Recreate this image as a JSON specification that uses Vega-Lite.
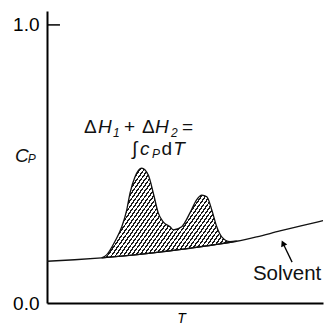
{
  "$schema": "https://vega.github.io/schema/vega-lite/v6.json",
  "width": 276,
  "height": 292,
  "autosize": {"type": "none"},
  "padding": {"left": 47, "top": 11, "right": 2, "bottom": 21},
  "background": "white",
  "config": {"view": {"stroke": null}, "font": "Liberation Sans"},
  "datasets": {
    "base": [
      {"T": 0, "v": 0.150}, {"T": 10, "v": 0.1555}, {"T": 19.8, "v": 0.1625}, {"T": 30, "v": 0.1715},
      {"T": 40, "v": 0.182}, {"T": 50, "v": 0.1945}, {"T": 60, "v": 0.2085}, {"T": 68.7, "v": 0.222},
      {"T": 76, "v": 0.238}, {"T": 84.4, "v": 0.259}, {"T": 92, "v": 0.277}, {"T": 100, "v": 0.296}
    ],
    "peak": [
      {"T": 19.8, "cp": 0.1625, "base": 0.1625},
      {"T": 21.6, "cp": 0.173, "base": 0.164},
      {"T": 24.6, "cp": 0.221, "base": 0.1665},
      {"T": 27.1, "cp": 0.274, "base": 0.1688},
      {"T": 28.9, "cp": 0.335, "base": 0.1705},
      {"T": 30.1, "cp": 0.396, "base": 0.1716},
      {"T": 31.9, "cp": 0.454, "base": 0.1734},
      {"T": 34.3, "cp": 0.485, "base": 0.1759},
      {"T": 36.7, "cp": 0.460, "base": 0.1784},
      {"T": 38.5, "cp": 0.396, "base": 0.1804},
      {"T": 40.3, "cp": 0.324, "base": 0.1825},
      {"T": 42.1, "cp": 0.292, "base": 0.1846},
      {"T": 44.6, "cp": 0.274, "base": 0.1876},
      {"T": 45.8, "cp": 0.263, "base": 0.1890},
      {"T": 48.8, "cp": 0.274, "base": 0.1928},
      {"T": 51.8, "cp": 0.324, "base": 0.1968},
      {"T": 54.2, "cp": 0.371, "base": 0.2001},
      {"T": 56.1, "cp": 0.388, "base": 0.2027},
      {"T": 57.9, "cp": 0.382, "base": 0.2053},
      {"T": 59.7, "cp": 0.335, "base": 0.2080},
      {"T": 61.5, "cp": 0.274, "base": 0.2106},
      {"T": 63.3, "cp": 0.238, "base": 0.2134},
      {"T": 66.3, "cp": 0.221, "base": 0.2181},
      {"T": 68.7, "cp": 0.222, "base": 0.222}
    ],
    "tick": [{"T": 0, "T2": 4.7, "v": 1}],
    "arrow": [{"T": 88.8, "v": 0.147, "T2": 85.5, "v2": 0.215}],
    "head": [{"T": 85.5, "v": 0.215}],
    "roman": [
      {"text": "Δ", "T": 13.4, "v": 0.6115},
      {"text": "+", "T": 27.9, "v": 0.6115},
      {"text": "Δ", "T": 34.4, "v": 0.6115},
      {"text": "=", "T": 48.9, "v": 0.6115},
      {"text": "∫", "T": 30.8, "v": 0.532},
      {"text": "d", "T": 41.5, "v": 0.532}
    ],
    "solvent": [
      {"text": "Solvent", "T": 74.6, "v": 0.083}
    ],
    "italic": [
      {"text": "H", "T": 18.5, "v": 0.6115},
      {"text": "H", "T": 39.1, "v": 0.6115},
      {"text": "c", "T": 33.7, "v": 0.532},
      {"text": "T", "T": 45.7, "v": 0.532},
      {"text": "C", "T": -11.6, "v": 0.507}
    ],
    "sub": [
      {"text": "1", "T": 23.9, "v": 0.597},
      {"text": "2", "T": 44.9, "v": 0.597},
      {"text": "P", "T": 38.0, "v": 0.522},
      {"text": "P", "T": -7.0, "v": 0.504}
    ]
  },
  "layer": [
    {
      "data": {"name": "peak"},
      "mark": {
        "type": "area",
        "interpolate": "monotone",
        "stroke": "#111111",
        "strokeWidth": 1.3,
        "fill": {
          "gradient": "linear", "x1": 0, "y1": 0, "x2": 1.22, "y2": 0.57,
          "stops": [
            {"offset": 0, "color": "#ffffff"},
            {"offset": 0.012, "color": "#ffffff"}, {"offset": 0.012, "color": "#1a1a1a"}, {"offset": 0.02, "color": "#1a1a1a"}, {"offset": 0.02, "color": "#ffffff"},
            {"offset": 0.032, "color": "#ffffff"}, {"offset": 0.032, "color": "#1a1a1a"}, {"offset": 0.04, "color": "#1a1a1a"}, {"offset": 0.04, "color": "#ffffff"},
            {"offset": 0.052, "color": "#ffffff"}, {"offset": 0.052, "color": "#1a1a1a"}, {"offset": 0.06, "color": "#1a1a1a"}, {"offset": 0.06, "color": "#ffffff"},
            {"offset": 0.072, "color": "#ffffff"}, {"offset": 0.072, "color": "#1a1a1a"}, {"offset": 0.08, "color": "#1a1a1a"}, {"offset": 0.08, "color": "#ffffff"},
            {"offset": 0.092, "color": "#ffffff"}, {"offset": 0.092, "color": "#1a1a1a"}, {"offset": 0.1, "color": "#1a1a1a"}, {"offset": 0.1, "color": "#ffffff"},
            {"offset": 0.112, "color": "#ffffff"}, {"offset": 0.112, "color": "#1a1a1a"}, {"offset": 0.12, "color": "#1a1a1a"}, {"offset": 0.12, "color": "#ffffff"},
            {"offset": 0.132, "color": "#ffffff"}, {"offset": 0.132, "color": "#1a1a1a"}, {"offset": 0.14, "color": "#1a1a1a"}, {"offset": 0.14, "color": "#ffffff"},
            {"offset": 0.152, "color": "#ffffff"}, {"offset": 0.152, "color": "#1a1a1a"}, {"offset": 0.16, "color": "#1a1a1a"}, {"offset": 0.16, "color": "#ffffff"},
            {"offset": 0.172, "color": "#ffffff"}, {"offset": 0.172, "color": "#1a1a1a"}, {"offset": 0.18, "color": "#1a1a1a"}, {"offset": 0.18, "color": "#ffffff"},
            {"offset": 0.192, "color": "#ffffff"}, {"offset": 0.192, "color": "#1a1a1a"}, {"offset": 0.2, "color": "#1a1a1a"}, {"offset": 0.2, "color": "#ffffff"},
            {"offset": 0.212, "color": "#ffffff"}, {"offset": 0.212, "color": "#1a1a1a"}, {"offset": 0.22, "color": "#1a1a1a"}, {"offset": 0.22, "color": "#ffffff"},
            {"offset": 0.232, "color": "#ffffff"}, {"offset": 0.232, "color": "#1a1a1a"}, {"offset": 0.24, "color": "#1a1a1a"}, {"offset": 0.24, "color": "#ffffff"},
            {"offset": 0.252, "color": "#ffffff"}, {"offset": 0.252, "color": "#1a1a1a"}, {"offset": 0.26, "color": "#1a1a1a"}, {"offset": 0.26, "color": "#ffffff"},
            {"offset": 0.272, "color": "#ffffff"}, {"offset": 0.272, "color": "#1a1a1a"}, {"offset": 0.28, "color": "#1a1a1a"}, {"offset": 0.28, "color": "#ffffff"},
            {"offset": 0.292, "color": "#ffffff"}, {"offset": 0.292, "color": "#1a1a1a"}, {"offset": 0.3, "color": "#1a1a1a"}, {"offset": 0.3, "color": "#ffffff"},
            {"offset": 0.312, "color": "#ffffff"}, {"offset": 0.312, "color": "#1a1a1a"}, {"offset": 0.32, "color": "#1a1a1a"}, {"offset": 0.32, "color": "#ffffff"},
            {"offset": 0.332, "color": "#ffffff"}, {"offset": 0.332, "color": "#1a1a1a"}, {"offset": 0.34, "color": "#1a1a1a"}, {"offset": 0.34, "color": "#ffffff"},
            {"offset": 0.352, "color": "#ffffff"}, {"offset": 0.352, "color": "#1a1a1a"}, {"offset": 0.36, "color": "#1a1a1a"}, {"offset": 0.36, "color": "#ffffff"},
            {"offset": 0.372, "color": "#ffffff"}, {"offset": 0.372, "color": "#1a1a1a"}, {"offset": 0.38, "color": "#1a1a1a"}, {"offset": 0.38, "color": "#ffffff"},
            {"offset": 0.392, "color": "#ffffff"}, {"offset": 0.392, "color": "#1a1a1a"}, {"offset": 0.4, "color": "#1a1a1a"}, {"offset": 0.4, "color": "#ffffff"},
            {"offset": 0.412, "color": "#ffffff"}, {"offset": 0.412, "color": "#1a1a1a"}, {"offset": 0.42, "color": "#1a1a1a"}, {"offset": 0.42, "color": "#ffffff"},
            {"offset": 0.432, "color": "#ffffff"}, {"offset": 0.432, "color": "#1a1a1a"}, {"offset": 0.44, "color": "#1a1a1a"}, {"offset": 0.44, "color": "#ffffff"},
            {"offset": 0.452, "color": "#ffffff"}, {"offset": 0.452, "color": "#1a1a1a"}, {"offset": 0.46, "color": "#1a1a1a"}, {"offset": 0.46, "color": "#ffffff"},
            {"offset": 0.472, "color": "#ffffff"}, {"offset": 0.472, "color": "#1a1a1a"}, {"offset": 0.48, "color": "#1a1a1a"}, {"offset": 0.48, "color": "#ffffff"},
            {"offset": 0.492, "color": "#ffffff"}, {"offset": 0.492, "color": "#1a1a1a"}, {"offset": 0.5, "color": "#1a1a1a"}, {"offset": 0.5, "color": "#ffffff"},
            {"offset": 0.512, "color": "#ffffff"}, {"offset": 0.512, "color": "#1a1a1a"}, {"offset": 0.52, "color": "#1a1a1a"}, {"offset": 0.52, "color": "#ffffff"},
            {"offset": 0.532, "color": "#ffffff"}, {"offset": 0.532, "color": "#1a1a1a"}, {"offset": 0.54, "color": "#1a1a1a"}, {"offset": 0.54, "color": "#ffffff"},
            {"offset": 0.552, "color": "#ffffff"}, {"offset": 0.552, "color": "#1a1a1a"}, {"offset": 0.56, "color": "#1a1a1a"}, {"offset": 0.56, "color": "#ffffff"},
            {"offset": 0.572, "color": "#ffffff"}, {"offset": 0.572, "color": "#1a1a1a"}, {"offset": 0.58, "color": "#1a1a1a"}, {"offset": 0.58, "color": "#ffffff"},
            {"offset": 0.592, "color": "#ffffff"}, {"offset": 0.592, "color": "#1a1a1a"}, {"offset": 0.6, "color": "#1a1a1a"}, {"offset": 0.6, "color": "#ffffff"},
            {"offset": 0.612, "color": "#ffffff"}, {"offset": 0.612, "color": "#1a1a1a"}, {"offset": 0.62, "color": "#1a1a1a"}, {"offset": 0.62, "color": "#ffffff"},
            {"offset": 0.632, "color": "#ffffff"}, {"offset": 0.632, "color": "#1a1a1a"}, {"offset": 0.64, "color": "#1a1a1a"}, {"offset": 0.64, "color": "#ffffff"},
            {"offset": 0.652, "color": "#ffffff"}, {"offset": 0.652, "color": "#1a1a1a"}, {"offset": 0.66, "color": "#1a1a1a"}, {"offset": 0.66, "color": "#ffffff"},
            {"offset": 0.672, "color": "#ffffff"}, {"offset": 0.672, "color": "#1a1a1a"}, {"offset": 0.68, "color": "#1a1a1a"}, {"offset": 0.68, "color": "#ffffff"},
            {"offset": 0.692, "color": "#ffffff"}, {"offset": 0.692, "color": "#1a1a1a"}, {"offset": 0.7, "color": "#1a1a1a"}, {"offset": 0.7, "color": "#ffffff"},
            {"offset": 0.712, "color": "#ffffff"}, {"offset": 0.712, "color": "#1a1a1a"}, {"offset": 0.72, "color": "#1a1a1a"}, {"offset": 0.72, "color": "#ffffff"},
            {"offset": 0.732, "color": "#ffffff"}, {"offset": 0.732, "color": "#1a1a1a"}, {"offset": 0.74, "color": "#1a1a1a"}, {"offset": 0.74, "color": "#ffffff"},
            {"offset": 0.752, "color": "#ffffff"}, {"offset": 0.752, "color": "#1a1a1a"}, {"offset": 0.76, "color": "#1a1a1a"}, {"offset": 0.76, "color": "#ffffff"},
            {"offset": 0.772, "color": "#ffffff"}, {"offset": 0.772, "color": "#1a1a1a"}, {"offset": 0.78, "color": "#1a1a1a"}, {"offset": 0.78, "color": "#ffffff"},
            {"offset": 0.792, "color": "#ffffff"}, {"offset": 0.792, "color": "#1a1a1a"}, {"offset": 0.8, "color": "#1a1a1a"}, {"offset": 0.8, "color": "#ffffff"},
            {"offset": 0.812, "color": "#ffffff"}, {"offset": 0.812, "color": "#1a1a1a"}, {"offset": 0.82, "color": "#1a1a1a"}, {"offset": 0.82, "color": "#ffffff"},
            {"offset": 0.832, "color": "#ffffff"}, {"offset": 0.832, "color": "#1a1a1a"}, {"offset": 0.84, "color": "#1a1a1a"}, {"offset": 0.84, "color": "#ffffff"},
            {"offset": 0.852, "color": "#ffffff"}, {"offset": 0.852, "color": "#1a1a1a"}, {"offset": 0.86, "color": "#1a1a1a"}, {"offset": 0.86, "color": "#ffffff"},
            {"offset": 0.872, "color": "#ffffff"}, {"offset": 0.872, "color": "#1a1a1a"}, {"offset": 0.88, "color": "#1a1a1a"}, {"offset": 0.88, "color": "#ffffff"},
            {"offset": 0.892, "color": "#ffffff"}, {"offset": 0.892, "color": "#1a1a1a"}, {"offset": 0.9, "color": "#1a1a1a"}, {"offset": 0.9, "color": "#ffffff"},
            {"offset": 0.912, "color": "#ffffff"}, {"offset": 0.912, "color": "#1a1a1a"}, {"offset": 0.92, "color": "#1a1a1a"}, {"offset": 0.92, "color": "#ffffff"},
            {"offset": 0.932, "color": "#ffffff"}, {"offset": 0.932, "color": "#1a1a1a"}, {"offset": 0.94, "color": "#1a1a1a"}, {"offset": 0.94, "color": "#ffffff"},
            {"offset": 0.952, "color": "#ffffff"}, {"offset": 0.952, "color": "#1a1a1a"}, {"offset": 0.96, "color": "#1a1a1a"}, {"offset": 0.96, "color": "#ffffff"},
            {"offset": 0.972, "color": "#ffffff"}, {"offset": 0.972, "color": "#1a1a1a"}, {"offset": 0.98, "color": "#1a1a1a"}, {"offset": 0.98, "color": "#ffffff"},
            {"offset": 1, "color": "#ffffff"}
          ]
        }
      },
      "encoding": {
        "x": {
          "field": "T", "type": "quantitative",
          "scale": {"domain": [0, 100], "nice": false, "zero": false},
          "axis": {
            "labels": false, "ticks": false, "grid": false,
            "domainColor": "black", "domainWidth": 2,
            "title": "T", "titleFont": "Liberation Sans", "titleFontStyle": "italic", "titleFontWeight": "normal",
            "titleFontSize": 14, "titleColor": "black", "titlePadding": 8, "titleX": 134
          }
        },
        "y": {
          "field": "cp", "type": "quantitative",
          "scale": {"domain": [0, 1.05], "nice": false},
          "axis": {
            "values": [0, 1], "format": ".1f", "ticks": false, "grid": false,
            "domainColor": "black", "domainWidth": 2,
            "labelFont": "Liberation Sans", "labelFontSize": 19, "labelColor": "black", "labelPadding": 8,
            "title": null
          }
        },
        "y2": {"field": "base"}
      }
    },
    {
      "data": {"name": "base"},
      "mark": {"type": "line", "interpolate": "monotone", "color": "#111111", "strokeWidth": 1.3},
      "encoding": {
        "x": {"field": "T", "type": "quantitative"},
        "y": {"field": "v", "type": "quantitative"}
      }
    },
    {
      "data": {"name": "tick"},
      "mark": {"type": "rule", "color": "black", "strokeWidth": 1.5},
      "encoding": {
        "x": {"field": "T", "type": "quantitative"},
        "x2": {"field": "T2"},
        "y": {"field": "v", "type": "quantitative"}
      }
    },
    {
      "data": {"name": "arrow"},
      "mark": {"type": "rule", "color": "black", "strokeWidth": 1.3},
      "encoding": {
        "x": {"field": "T", "type": "quantitative"},
        "x2": {"field": "T2"},
        "y": {"field": "v", "type": "quantitative"},
        "y2": {"field": "v2"}
      }
    },
    {
      "data": {"name": "head"},
      "mark": {"type": "point", "shape": "triangle-up", "filled": true, "color": "black", "size": 45, "angle": 335, "opacity": 1},
      "encoding": {
        "x": {"field": "T", "type": "quantitative"},
        "y": {"field": "v", "type": "quantitative"}
      }
    },
    {
      "data": {"name": "roman"},
      "mark": {"type": "text", "align": "left", "baseline": "alphabetic", "font": "Liberation Sans", "fontSize": 19, "color": "#111111"},
      "encoding": {
        "x": {"field": "T", "type": "quantitative"},
        "y": {"field": "v", "type": "quantitative"},
        "text": {"field": "text"}
      }
    },
    {
      "data": {"name": "solvent"},
      "mark": {"type": "text", "align": "left", "baseline": "alphabetic", "font": "Liberation Sans", "fontSize": 20.5, "color": "#111111"},
      "encoding": {
        "x": {"field": "T", "type": "quantitative"},
        "y": {"field": "v", "type": "quantitative"},
        "text": {"field": "text"}
      }
    },
    {
      "data": {"name": "italic"},
      "mark": {"type": "text", "align": "left", "baseline": "alphabetic", "font": "Liberation Sans", "fontSize": 19, "fontStyle": "italic", "color": "#111111"},
      "encoding": {
        "x": {"field": "T", "type": "quantitative"},
        "y": {"field": "v", "type": "quantitative"},
        "text": {"field": "text"}
      }
    },
    {
      "data": {"name": "sub"},
      "mark": {"type": "text", "align": "left", "baseline": "alphabetic", "font": "Liberation Sans", "fontSize": 12, "fontStyle": "italic", "color": "#111111"},
      "encoding": {
        "x": {"field": "T", "type": "quantitative"},
        "y": {"field": "v", "type": "quantitative"},
        "text": {"field": "text"}
      }
    }
  ]
}
